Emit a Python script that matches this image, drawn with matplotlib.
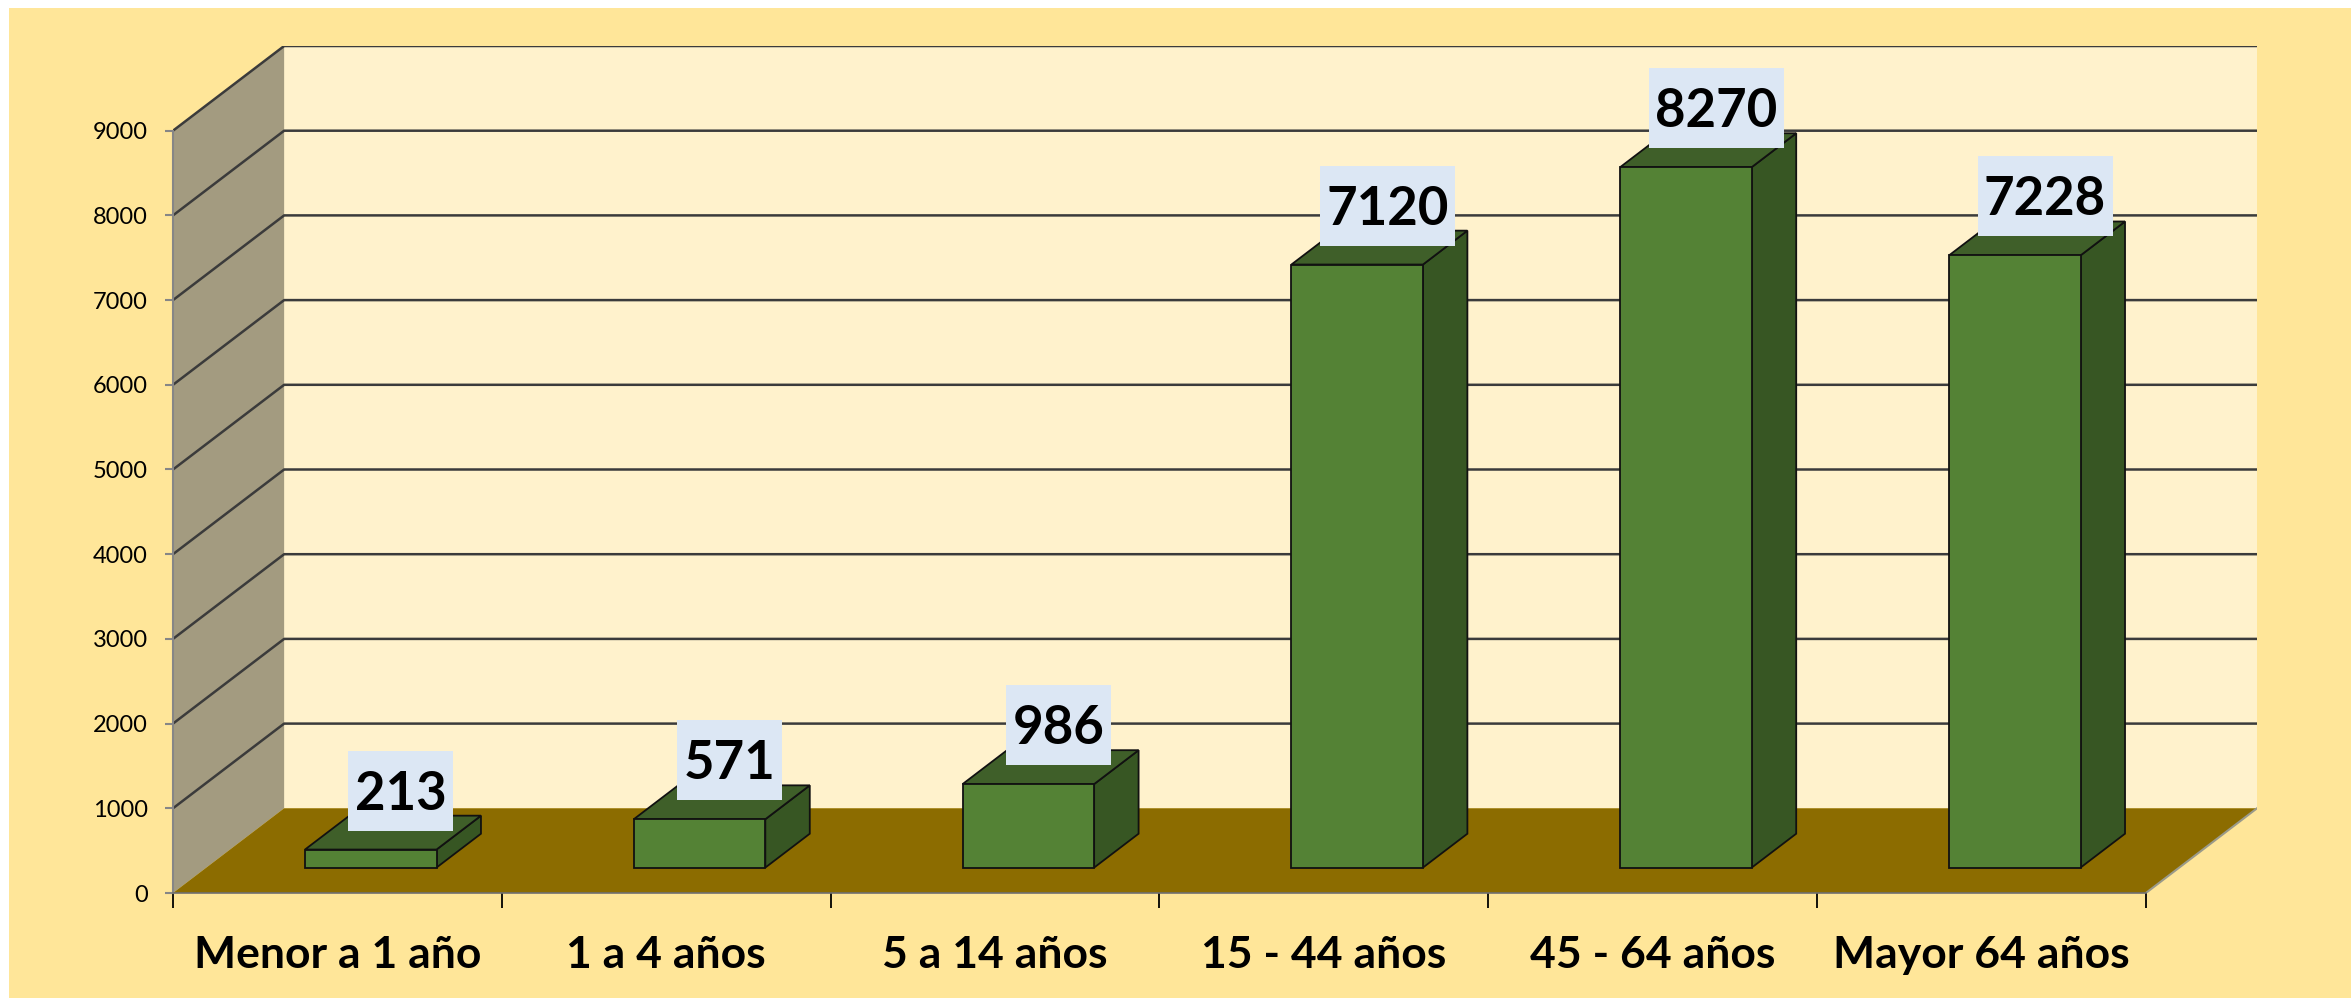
import matplotlib
matplotlib.use("Agg")
import matplotlib.pyplot as plt
from matplotlib.patches import Polygon, Rectangle

# ---------------- data ----------------
categories = ["Menor a 1 año", "1 a 4 años", "5 a 14 años",
              "15 - 44 años", "45 - 64 años", "Mayor 64 años"]
values = [213, 571, 986, 7120, 8270, 7228]
y_ticks = [0, 1000, 2000, 3000, 4000, 5000, 6000, 7000, 8000, 9000]
y_tick_labels = [str(t) for t in y_ticks]

# ---------------- style ----------------
plt.rcParams["font.family"] = ["Lato", "DejaVu Sans"]
W, H = 2351, 998
PANEL = "#FFE699"
BACK = "#FFF2CC"
SIDE = "#A39B80"
FLOOR = "#8C6C00"
GRID = "#3B3B3B"
FRONT = "#548235"
RIGHT = "#375623"
TOP = "#3F5F29"
LABEL_BG = "#DCE7F4"

fig = plt.figure(figsize=(W / 100, H / 100), dpi=100, facecolor="white")
fig.add_artist(Rectangle((9 / W, 0), 1 - 9 / W, 1 - 8 / H,
                         transform=fig.transFigure, facecolor=PANEL,
                         edgecolor="none", zorder=-10))

# axes: left = front of value axis, bottom = front floor edge
L, R, B, T = 173, 2257, 893, 46
ax = fig.add_axes([L / W, (H - B) / H, (R - L) / W, (B - T) / H])
ax.patch.set_visible(False)

n = len(categories)
ymax = y_ticks[-1]
DX = 0.338          # depth offset in category units
DY = 1000.0         # depth offset in value units
ax.set_xlim(-0.5, n - 0.5 + DX)
ax.set_ylim(0, ymax + DY)
PXX = (R - L) / (n + DX)
PXY = (B - T) / (ymax + DY)

# walls and floor
ax.add_patch(Rectangle((-0.5 + DX, DY), n, ymax, facecolor=BACK,
                       edgecolor="none", zorder=1))
ax.add_patch(Polygon([(-0.5, 0), (-0.5 + DX, DY), (-0.5 + DX, ymax + DY),
                      (-0.5, ymax)], closed=True, facecolor=SIDE,
                     edgecolor="none", zorder=1))
for t in y_ticks[1:]:
    ax.plot([-0.5, -0.5 + DX, n - 0.5 + DX], [t, t + DY, t + DY],
            color=GRID, lw=1.8, zorder=2, solid_capstyle="butt")
ax.add_patch(Polygon([(-0.5, 0), (n - 0.5, 0), (n - 0.5 + DX, DY),
                      (-0.5 + DX, DY)], closed=True, facecolor=FLOOR,
                     edgecolor="none", zorder=3))
ax.plot([n - 0.5, n - 0.5 + DX], [0, DY], color="#9A9A8A", lw=1.5, zorder=3)

# bars
bw = 0.4
f0 = 0.3   # front face depth fraction
bd = 0.4   # bar depth fraction
for i, v in enumerate(values):
    x0 = i - bw / 2 + f0 * DX
    x1 = x0 + bw
    y0 = f0 * DY
    ddx, ddy = bd * DX, bd * DY
    ax.add_patch(Polygon([(x1, y0), (x1 + ddx, y0 + ddy),
                          (x1 + ddx, y0 + ddy + v), (x1, y0 + v)],
                         closed=True, facecolor=RIGHT, edgecolor="#111111",
                         lw=1.3, zorder=5))
    ax.add_patch(Polygon([(x0, y0 + v), (x1, y0 + v), (x1 + ddx, y0 + v + ddy),
                          (x0 + ddx, y0 + v + ddy)], closed=True,
                         facecolor=TOP, edgecolor="#111111", lw=1.3, zorder=5))
    ax.add_patch(Rectangle((x0, y0), bw, v, facecolor=FRONT,
                           edgecolor="#111111", lw=1.3, zorder=6))
    # data label box
    txt = str(v)
    cx = i + 0.5 * DX + 8 / PXX
    cy = 0.5 * DY + v + 42 / PXY
    bwpx = 15 + 30 * len(txt)
    ax.add_patch(Rectangle((cx - bwpx / 2 / PXX, cy - 40 / PXY),
                           bwpx / PXX, 80 / PXY, facecolor=LABEL_BG,
                           edgecolor="none", zorder=8, clip_on=False))
    ax.text(cx, cy - 19 / PXY, txt, ha="center", va="baseline",
            fontsize=38, fontweight="bold", color="black", zorder=9,
            clip_on=False)

# axes decoration
for s in ["top", "right"]:
    ax.spines[s].set_visible(False)
ax.spines["left"].set_bounds(0, ymax)
ax.spines["left"].set_color("#868686")
ax.spines["left"].set_linewidth(1.5)
ax.spines["left"].set_zorder(4)
ax.spines["bottom"].set_bounds(-0.5, n - 0.5)
ax.spines["bottom"].set_color("#6F6F6F")
ax.spines["bottom"].set_linewidth(1.2)
ax.spines["bottom"].set_zorder(4)

ax.set_yticks(y_ticks)
ax.set_yticklabels(y_tick_labels)
ax.tick_params(axis="y", direction="out", length=6, width=1.5,
               color="#868686", pad=12, labelsize=17, labelcolor="black")

ax.set_xticks([i - 0.5 for i in range(n + 1)])
ax.set_xticklabels([])
ax.set_xticks(list(range(n)), minor=True)
ax.set_xticklabels(categories, minor=True)
ax.tick_params(axis="x", which="major", direction="out", length=11,
               width=1.3, color="black")
ax.tick_params(axis="x", which="minor", length=0, pad=30, labelsize=32)
for lab in ax.get_xticklabels(minor=True):
    lab.set_fontweight("bold")

fig.savefig("out.png", dpi=100, facecolor="white")
